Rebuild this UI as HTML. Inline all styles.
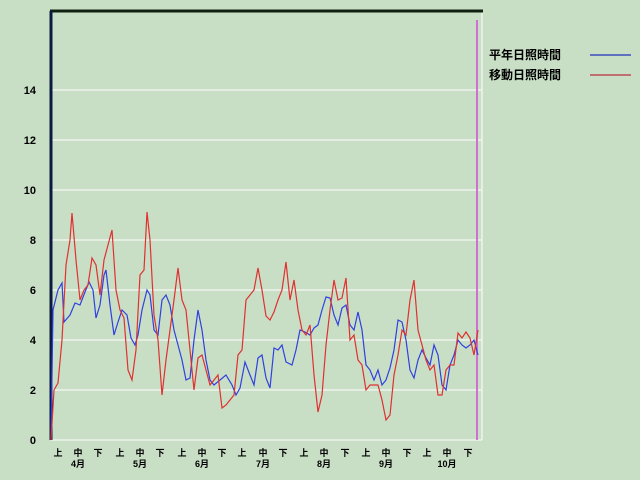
<!DOCTYPE html>
<html><head><meta charset="utf-8"><style>
html,body{margin:0;padding:0;background:#c8dfc5;}
svg{display:block}
text{font-family:"Liberation Sans","Noto Sans CJK JP",sans-serif;font-weight:bold;fill:#000}
</style></head><body>
<svg width="640" height="480" viewBox="0 0 640 480">
<rect width="640" height="480" fill="#c8dfc5"/>
<g stroke="#eef4ec" stroke-width="1.5">
<line x1="51" y1="390" x2="482" y2="390"/><line x1="51" y1="340" x2="482" y2="340"/>
<line x1="51" y1="290" x2="482" y2="290"/><line x1="51" y1="240" x2="482" y2="240"/>
<line x1="51" y1="190" x2="482" y2="190"/><line x1="51" y1="140" x2="482" y2="140"/>
<line x1="51" y1="90" x2="482" y2="90"/>
<line x1="51" y1="440" x2="482" y2="440"/><line x1="482" y1="11" x2="482" y2="440"/>
</g>
<line x1="50" y1="11" x2="483" y2="11" stroke="#102010" stroke-width="3"/>
<line x1="51" y1="11" x2="51" y2="440" stroke="#0a1a40" stroke-width="3"/>
<line x1="477" y1="20" x2="477" y2="440" stroke="#d070d0" stroke-width="2"/>
<g font-size="11" text-anchor="end">
<text x="36" y="444">0</text><text x="36" y="394">2</text><text x="36" y="344">4</text>
<text x="36" y="294">6</text><text x="36" y="244">8</text><text x="36" y="194">10</text>
<text x="36" y="144">12</text><text x="36" y="94">14</text>
</g>
<g font-size="9" text-anchor="middle">
<text x="58" y="456">上</text><text x="78" y="456">中</text><text x="98" y="456">下</text>
<text x="120" y="456">上</text><text x="140" y="456">中</text><text x="160" y="456">下</text>
<text x="182" y="456">上</text><text x="202" y="456">中</text><text x="222" y="456">下</text>
<text x="242" y="456">上</text><text x="263" y="456">中</text><text x="283" y="456">下</text>
<text x="304" y="456">上</text><text x="324" y="456">中</text><text x="345" y="456">下</text>
<text x="366" y="456">上</text><text x="386" y="456">中</text><text x="407" y="456">下</text>
<text x="427" y="456">上</text><text x="447" y="456">中</text><text x="468" y="456">下</text>
<text x="78" y="467">4月</text><text x="140" y="467">5月</text><text x="202" y="467">6月</text>
<text x="263" y="467">7月</text><text x="324" y="467">8月</text><text x="386" y="467">9月</text>
<text x="447" y="467">10月</text>
</g>
<g font-size="12"><text x="489" y="59">平年日照時間</text><text x="489" y="79">移動日照時間</text></g>
<line x1="590" y1="55" x2="631" y2="55" stroke="#6070c0" stroke-width="2"/>
<line x1="590" y1="75" x2="631" y2="75" stroke="#c07070" stroke-width="2"/>
<polyline fill="none" stroke="#3040e0" stroke-width="1.2" points="51,440 53,310 58,290 62,283 64,322 70,315 75,303 80,305 85,292 89,282 93,290 96,318 100,305 104,275 106,270 110,305 114,335 118,322 122,310 127,315 131,338 135,345 138,335 142,310 147,290 150,295 154,330 158,335 162,300 166,295 170,305 174,330 178,345 182,360 186,380 190,378 194,340 198,310 202,330 206,360 210,380 214,385 220,380 226,375 232,385 236,395 240,388 245,362 250,375 254,385 258,358 262,355 266,378 270,388 274,348 278,350 282,345 286,362 292,365 296,350 300,330 305,332 310,335 314,328 318,325 322,310 326,297 330,298 334,315 338,325 342,308 346,305 350,325 354,330 358,312 362,330 366,365 370,370 374,380 378,370 382,385 386,380 390,368 394,350 398,320 402,322 406,340 410,370 414,378 418,360 422,350 426,358 430,365 434,345 438,355 442,385 446,390 450,365 454,355 458,340 462,345 466,348 470,345 474,340 478,355"/>
<polyline fill="none" stroke="#e03030" stroke-width="1.2" points="51,440 54,390 58,383 62,340 66,265 70,240 72,213 76,260 80,300 84,290 88,285 92,258 96,265 100,295 104,260 108,245 112,230 116,290 120,310 124,318 128,370 132,380 136,350 140,275 144,270 147,212 150,240 154,315 158,340 162,395 166,360 170,330 174,300 178,268 182,300 186,310 190,350 194,390 198,358 202,355 206,370 210,385 214,380 218,375 222,408 226,405 230,400 234,395 238,355 242,350 246,300 250,295 254,290 258,268 262,290 266,316 270,320 274,312 278,300 282,290 286,262 290,300 294,280 298,310 302,330 306,335 310,325 314,375 318,412 322,395 326,345 330,310 334,280 338,300 342,298 346,278 350,340 354,335 358,360 362,365 366,390 370,385 374,385 378,385 382,400 386,420 390,415 394,375 398,355 402,330 406,335 410,300 414,280 418,330 422,345 426,360 430,370 434,365 438,395 442,395 446,370 450,365 454,365 458,333 462,338 466,332 470,338 474,355 478,330"/>
</svg>
</body></html>
